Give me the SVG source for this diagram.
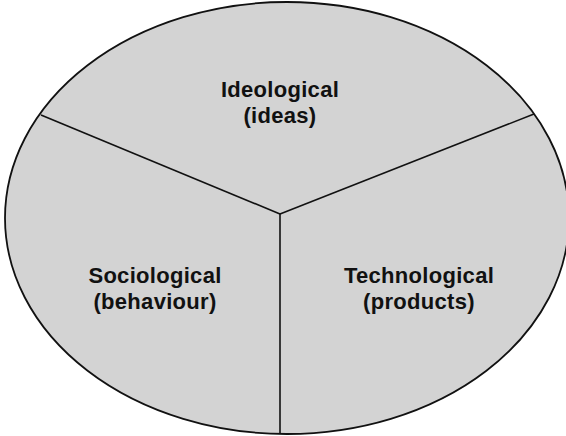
<svg xmlns="http://www.w3.org/2000/svg" width="566" height="436" viewBox="0 0 566 436">
  <style>
    .lbl { font-family: "Liberation Sans", Arial, sans-serif; font-weight: bold; font-size: 22px; fill: #111; text-anchor: middle; letter-spacing: 0.3px; }
    .edge { stroke: #111; stroke-width: 1.6; fill: none; }
  </style>
  <rect width="566" height="436" fill="#ffffff"/>
  <g id="circle">
    <ellipse cx="287" cy="218" rx="282" ry="216" fill="#d3d3d3" stroke="#111" stroke-width="1.8"/>
  </g>
  <g id="connectors">
    <line class="edge" x1="280" y1="214" x2="41" y2="115"/>
    <line class="edge" x1="280" y1="214" x2="534" y2="114"/>
    <line class="edge" x1="280" y1="214" x2="280" y2="434"/>
  </g>
  <g id="ideological">
    <text class="lbl" x="280" y="97">Ideological</text>
    <text class="lbl" x="280" y="123">(ideas)</text>
  </g>
  <g id="sociological">
    <text class="lbl" x="155" y="283">Sociological</text>
    <text class="lbl" x="155" y="309">(behaviour)</text>
  </g>
  <g id="technological">
    <text class="lbl" x="419" y="283">Technological</text>
    <text class="lbl" x="419" y="309">(products)</text>
  </g>
</svg>
